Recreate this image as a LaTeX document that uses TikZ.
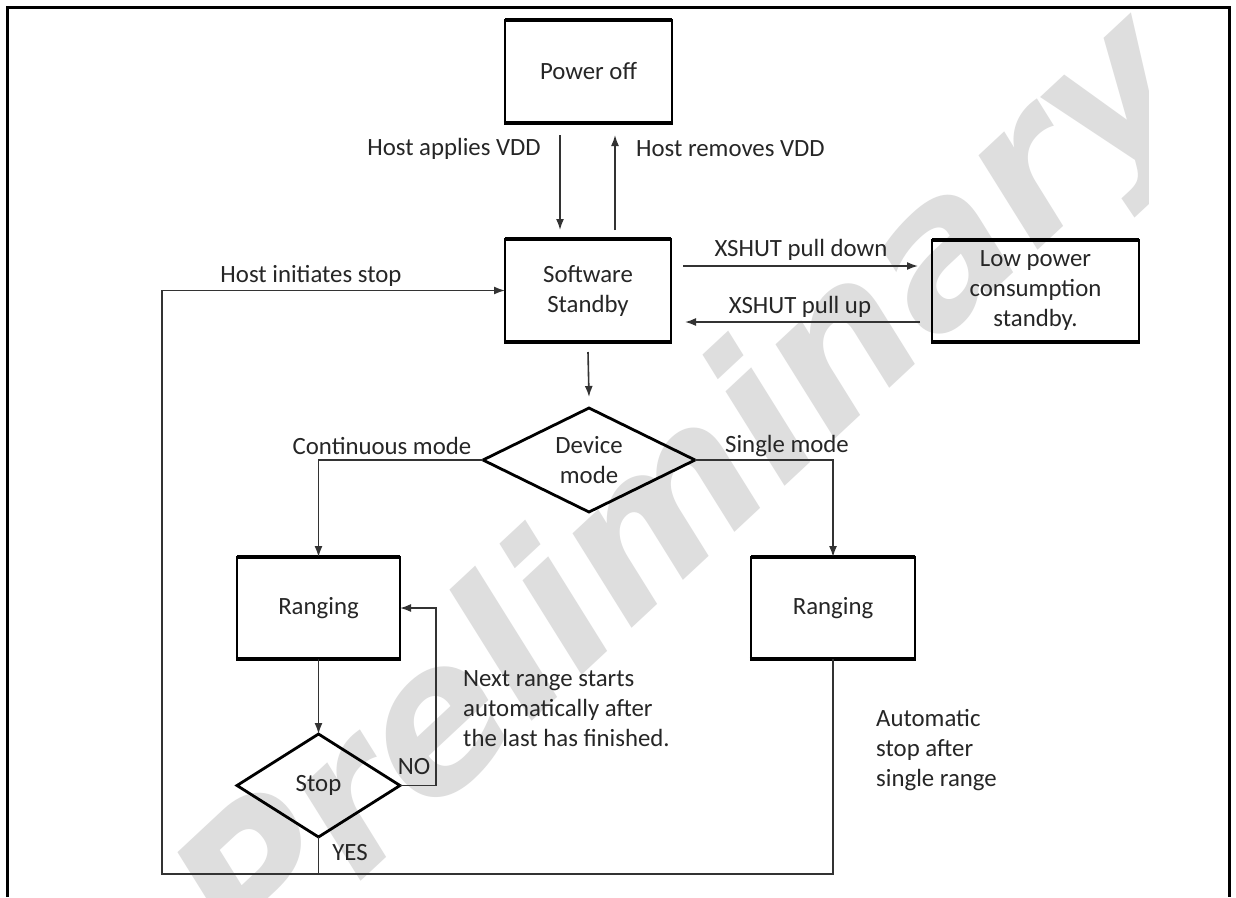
\documentclass[tikz,border=0pt]{standalone}
\usepackage{fontspec}
\setmainfont{Carlito}
\newfontfamily\wmfont{DejaVu Sans}
\usetikzlibrary{shapes.geometric,arrows.meta}
\newcommand\lblfont{\fontsize{24.8}{30}\selectfont}
\newcommand\tbedges[1]{\draw[tbedge] (#1.north west) -- (#1.north east) (#1.south west) -- (#1.south east);}
\begin{document}
\begin{tikzpicture}[x=1pt,y=-1pt,
  lbl/.style={font=\lblfont, text=black!85, inner sep=0pt},
  box/.style={draw=black, line width=2.5pt, outer sep=0pt, inner sep=0pt, align=center, font=\lblfont, text=black!85},
  dia/.style={draw=black, diamond, aspect=2, line width=2.8pt, outer sep=0pt, inner sep=0pt},
  tbedge/.style={draw=black, line width=4.5pt, shorten <=-1.25pt, shorten >=-1.25pt},
  conn/.style={draw=black!80, line width=1.6pt},
  arr/.style={conn, -{Latex[length=11pt,width=8pt]}},
]
\useasboundingbox (0,0) rectangle (1236,897);
\fill[white] (0,0) rectangle (1236,897);
% watermark
\begin{scope}
\clip (0,0) rectangle (1148,897);
\node[rotate=43, text=black!13, inner sep=0pt, font=\wmfont\bfseries\itshape\fontsize{200}{200}\selectfont] (wm) at (690,500) {Preliminary};
\end{scope}
% frame
\draw[line width=3pt] (7,897) -- (7,7) -- (1229,7) -- (1229,897);

% boxes
\node[box, minimum width=167pt, minimum height=103pt] (poweroff) at (588.5,71.5) {Power off};
\node[box, minimum width=166pt, minimum height=103pt] (standby) at (588,290.5) {Software\\Standby};
\node[box, minimum width=207pt, minimum height=102pt] (lowpower) at (1035.5,291) {Low power\\consumption\\standby.};
\node[box, minimum width=163pt, minimum height=102pt] (rangeL) at (318.5,608) {Ranging};
\node[box, minimum width=164pt, minimum height=102pt] (rangeR) at (833,608) {Ranging};
\tbedges{poweroff}
\tbedges{standby}
\tbedges{lowpower}
\tbedges{rangeL}
\tbedges{rangeR}

% diamonds
\node[dia, minimum width=212pt, minimum height=104pt] (dev) at (589,460) {};
\node[lbl, align=center] (devt) at (dev) {Device\\mode};
\node[dia, minimum width=163pt, minimum height=103pt] (stop) at (318.5,785.5) {};
\node[lbl] (stopt) at (stop) {Stop};

% connectors
\draw[arr] ([xshift=-28.5pt,yshift=-12pt]poweroff.south) -- ([xshift=-28pt,yshift=9pt]standby.north);
\draw[arr] ([xshift=27pt,yshift=9pt]standby.north) -- ([xshift=26.5pt,yshift=-12pt]poweroff.south);
\draw[arr] ([xshift=12pt,yshift=24.5pt]standby.east) -- ([xshift=-14pt,yshift=25pt]lowpower.west);
\draw[arr] ([xshift=-12pt,yshift=-31pt]lowpower.west) -- ([xshift=14pt,yshift=-31.5pt]standby.east);
\draw[arr] ([yshift=-10pt]standby.south) -- ([yshift=11pt]dev.north);
\draw[arr] (dev.west) -| (rangeL.north);
\draw[arr] (dev.east) -| (rangeR.north);
\draw[arr] (rangeL.south) -- (stop.north);
\draw[arr] (stop.east) -- ++(36,0) |- (rangeL.east);
\coordinate (bl) at (162,874);
\draw[conn] (stop.south) -- (stop.south |- bl);
\draw[arr] (rangeR.south) |- (bl) |- (standby.west);

% labels
\node[lbl, anchor=east] (l1) at (541,149) {Host applies VDD};
\node[lbl, anchor=west] (l2) at (636,149) {Host removes VDD};
\node[lbl] (l3) at (801,250) {XSHUT pull down};
\node[lbl] (l4) at (800,307) {XSHUT pull up};
\node[lbl] (l5) at (311,276) {Host initiates stop};
\node[lbl] (l6) at (382,446) {Continuous mode};
\node[lbl] (l7) at (787,446) {Single mode};
\node[lbl] (l8) at (414,767) {NO};
\node[lbl] (l9) at (350,853) {YES};
\node[lbl, anchor=west, align=left] (l10) at (463,709) {Next range starts\\automatically after\\the last has finished.};
\node[lbl, anchor=west, align=left] (l11) at (876,750) {Automatic\\stop after\\single range};
\end{tikzpicture}
\end{document}
